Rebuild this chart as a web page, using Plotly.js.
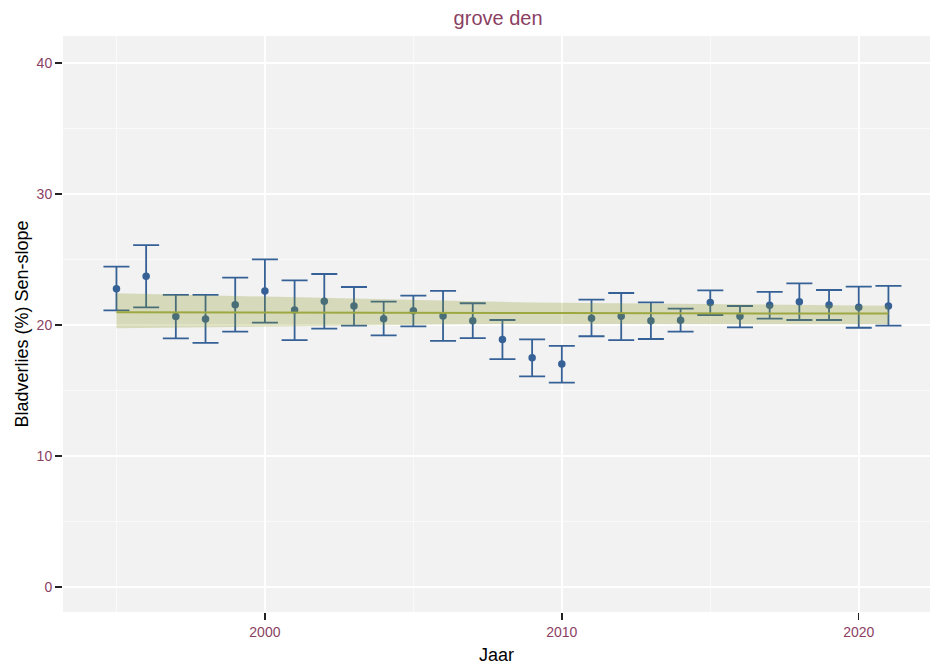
<!DOCTYPE html>
<html>
<head>
<meta charset="utf-8">
<script src="https://cdn.plot.ly/plotly-3.0.1.min.js"></script>
<style>html,body{margin:0;padding:0;background:#fff;}#chart{width:931px;height:668px;}</style>
</head>
<body>
<div id="chart"></div>
<script>
const years = [1995,1996,1997,1998,1999,2000,2001,2002,2003,2004,2005,2006,2007,2008,2009,2010,2011,2012,2013,2014,2015,2016,2017,2018,2019,2020,2021];
const mean  = [22.77,23.72,20.64,20.46,21.55,22.60,21.15,21.81,21.45,20.48,21.09,20.69,20.33,18.90,17.50,17.02,20.51,20.66,20.33,20.36,21.71,20.66,21.50,21.78,21.53,21.35,21.45];
const upper = [24.45,26.10,22.29,22.29,23.61,25.01,23.41,23.89,22.90,21.78,22.24,22.60,21.66,20.38,18.90,18.40,21.93,22.44,21.73,21.25,22.64,21.45,22.52,23.18,22.67,22.92,22.98];
const lower = [21.12,21.35,18.98,18.63,19.49,20.18,18.85,19.72,19.95,19.21,19.90,18.78,19.00,17.40,16.08,15.60,19.14,18.85,18.93,19.49,20.76,19.82,20.48,20.38,20.38,19.79,19.95];
const trend = [20.97,20.97,20.96,20.96,20.95,20.95,20.95,20.94,20.94,20.93,20.93,20.93,20.92,20.92,20.92,20.91,20.91,20.90,20.90,20.90,20.89,20.89,20.88,20.88,20.88,20.87,20.87];
const ciUp  = [22.42,22.37,22.32,22.28,22.23,22.17,22.12,22.06,22.00,21.95,21.89,21.84,21.78,21.73,21.71,21.69,21.67,21.65,21.63,21.61,21.59,21.57,21.55,21.53,21.51,21.49,21.47];
const ciLo  = [19.75,19.78,19.80,19.83,19.85,19.88,19.90,19.93,19.95,19.98,20.00,20.03,20.05,20.08,20.08,20.08,20.08,20.07,20.07,20.07,20.07,20.06,20.06,20.06,20.05,20.05,20.05];
const xTicks = [2000,2010,2020];
const yTicks = [0,10,20,30,40];

const blue = '#356196';
const purple = '#8B3F63';

const traces = [
  {
    x: years, y: mean, type: 'scatter', mode: 'markers',
    marker: {color: blue, size: 7.5},
    error_y: {
      type: 'data', symmetric: false,
      array: upper.map((u,i)=>u-mean[i]),
      arrayminus: lower.map((l,i)=>mean[i]-l),
      color: blue, thickness: 1.8, width: 13
    },
    hoverinfo: 'x+y', showlegend: false
  },
  {
    x: years, y: ciLo, type: 'scatter', mode: 'lines',
    line: {width: 0, color: 'rgba(0,0,0,0)'}, showlegend: false, hoverinfo: 'skip'
  },
  {
    x: years, y: ciUp, type: 'scatter', mode: 'lines', fill: 'tonexty',
    fillcolor: 'rgba(134,150,30,0.26)',
    line: {width: 0, color: 'rgba(0,0,0,0)'}, showlegend: false, hoverinfo: 'skip'
  },
  {
    x: years, y: trend, type: 'scatter', mode: 'lines',
    line: {color: '#9ea843', width: 2}, showlegend: false
  }
];

const layout = {
  width: 931, height: 668,
  margin: {l: 63, r: 1, t: 36, b: 56},
  paper_bgcolor: '#ffffff',
  plot_bgcolor: '#f2f2f2',
  font: {family: 'Liberation Sans, Arial, sans-serif', color: '#000'},
  title: {text: 'grove den', font: {size: 20, color: purple}, x: 0.535, xanchor: 'center', y: 0.973, yanchor: 'middle'},
  xaxis: {
    range: [1993.2, 2022.4],
    tickvals: xTicks, ticktext: xTicks.map(String),
    ticks: 'outside', ticklen: 7, tickwidth: 1.4, tickcolor: '#222',
    tickfont: {size: 14, color: purple},
    showgrid: true, gridcolor: '#ffffff', gridwidth: 1.8,
    minor: {tickvals: [1995,2005,2015], showgrid: true, gridcolor: '#fbfbfb', gridwidth: 0.9, ticks: ''},
    zeroline: false, showline: false,
    title: {text: 'Jaar', font: {size: 18, color: '#000'}, standoff: 9}
  },
  yaxis: {
    range: [-1.9, 42.05],
    tickvals: yTicks, ticktext: yTicks.map(String),
    ticks: 'outside', ticklen: 7, tickwidth: 1.4, tickcolor: '#222',
    tickfont: {size: 14, color: purple},
    showgrid: true, gridcolor: '#ffffff', gridwidth: 1.8,
    minor: {tickvals: [5,15,25,35], showgrid: true, gridcolor: '#fbfbfb', gridwidth: 0.9, ticks: ''},
    zeroline: false, showline: false,
    title: {text: 'Bladverlies (%) Sen-slope', font: {size: 18, color: '#000'}, standoff: 3}
  }
};

Plotly.newPlot('chart', traces, layout, {displayModeBar: false, staticPlot: true});
</script>
</body>
</html>
